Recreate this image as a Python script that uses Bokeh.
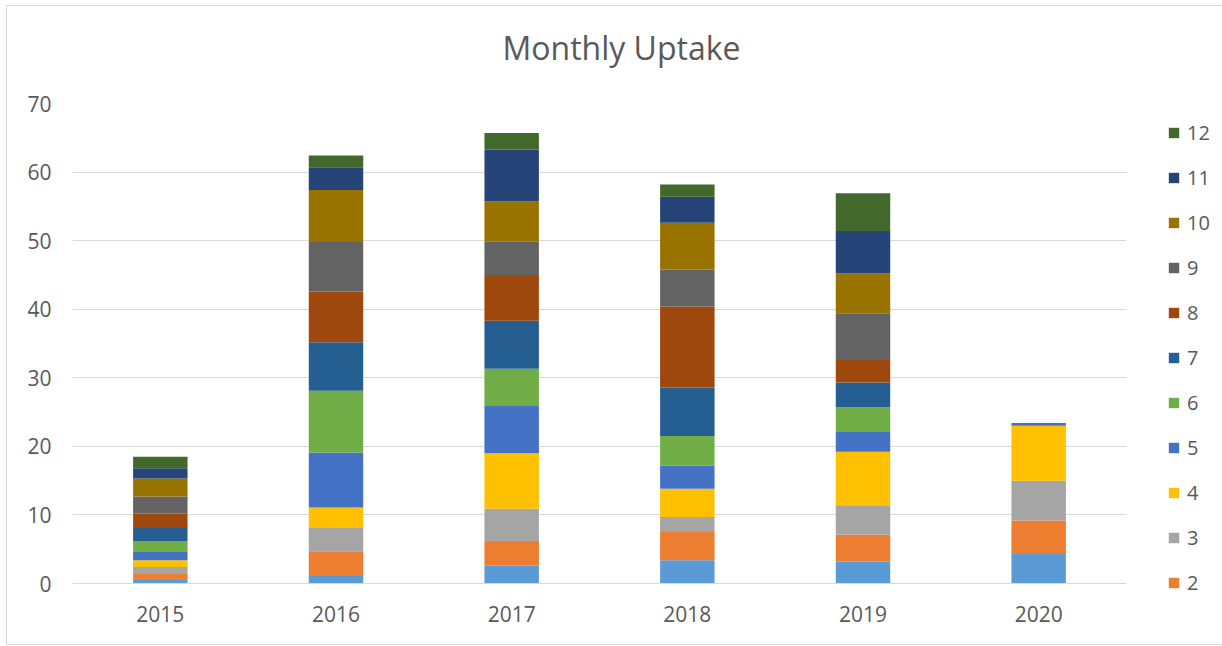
from bokeh.plotting import figure
from bokeh.models import Legend, LegendItem, FactorRange, FixedTicker, Title
from bokeh.embed import file_html
from bokeh.resources import INLINE

years = ["2015", "2016", "2017", "2018", "2019", "2020"]
months = [str(i) for i in range(1, 13)]

m1 = [0.5, 1.1, 2.6, 3.4, 3.2, 4.3]
m2 = [0.9, 3.6, 3.6, 4.1, 3.9, 4.9]
m3 = [1.0, 3.4, 4.7, 2.2, 4.3, 5.8]
m4 = [1.0, 3.0, 8.1, 4.1, 7.8, 8.0]
m5 = [1.3, 8.0, 6.9, 3.4, 2.9, 0.4]
m6 = [1.5, 9.0, 5.4, 4.3, 3.6, 0.0]
m7 = [1.9, 7.1, 7.0, 7.1, 3.6, 0.0]
m8 = [2.1, 7.4, 6.7, 11.8, 3.3, 0.0]
m9 = [2.5, 7.2, 4.9, 5.4, 6.8, 0.0]
m10 = [2.6, 7.6, 5.8, 6.8, 5.8, 0.0]
m11 = [1.5, 3.3, 7.6, 3.8, 6.2, 0.0]
m12 = [1.7, 1.7, 2.4, 1.8, 5.5, 0.0]

y_ticks = [0, 10, 20, 30, 40, 50, 60, 70]

colors = ["#5B9BD5", "#ED7D31", "#A5A5A5", "#FFC000", "#4472C4", "#70AD47",
          "#255E91", "#9E480E", "#636363", "#997300", "#264478", "#43682B"]

data = {"year": years}
for name, vals in zip(months, [m1, m2, m3, m4, m5, m6, m7, m8, m9, m10, m11, m12]):
    data[name] = vals

FONT = "Open Sans"
TXT = "#595959"

p = figure(x_range=FactorRange(*years, range_padding=0), y_range=(0, 70),
           frame_width=1054, frame_height=480, output_backend="svg", toolbar_location=None,
           min_border_left=65, min_border_right=93, min_border_top=97, min_border_bottom=61,
           title="Monthly Uptake")
p.styles = {"border": "1px solid #D9D9D9", "margin-left": "6px", "margin-top": "5px"}

rs = p.vbar_stack(months, x="year", width=0.31, color=colors, source=data, line_color=None)

p.title.align = "left"
p.title.offset = 430
p.title.text_font = FONT
p.title.text_font_size = "32px"
p.title.text_font_style = "normal"
p.title.text_color = TXT
p.title.standoff = 0

# invisible spacer between the title and the plot frame
spacer = Title(text=" ", text_font_size="1px", standoff=32)
p.add_layout(spacer, "above")

p.outline_line_color = None
p.xgrid.grid_line_color = None
p.ygrid.grid_line_color = "#D9D9D9"
p.ygrid.grid_line_width = 1
p.yaxis.ticker = FixedTicker(ticks=y_ticks)

for ax in (p.xaxis, p.yaxis):
    ax.major_tick_line_color = None
    ax.minor_tick_line_color = None
    ax.major_label_text_font = FONT
    ax.major_label_text_font_size = "21px"
    ax.major_label_text_color = TXT
p.yaxis.axis_line_color = None
p.xaxis.axis_line_color = "#D9D9D9"
p.yaxis.major_label_standoff = 15
p.xaxis.major_label_standoff = 16

items = [LegendItem(label=months[i], renderers=[rs[i]]) for i in range(11, 0, -1)]
legend = Legend(items=items, location=(41, -13), padding=0, spacing=18, margin=0,
                glyph_width=13, glyph_height=13, label_height=20, label_standoff=7,
                label_text_font=FONT, label_text_font_size="20px", label_text_color=TXT,
                border_line_color=None, background_fill_alpha=0)
p.add_layout(legend, "right")

open("out.html", "w").write(file_html(p, INLINE))
